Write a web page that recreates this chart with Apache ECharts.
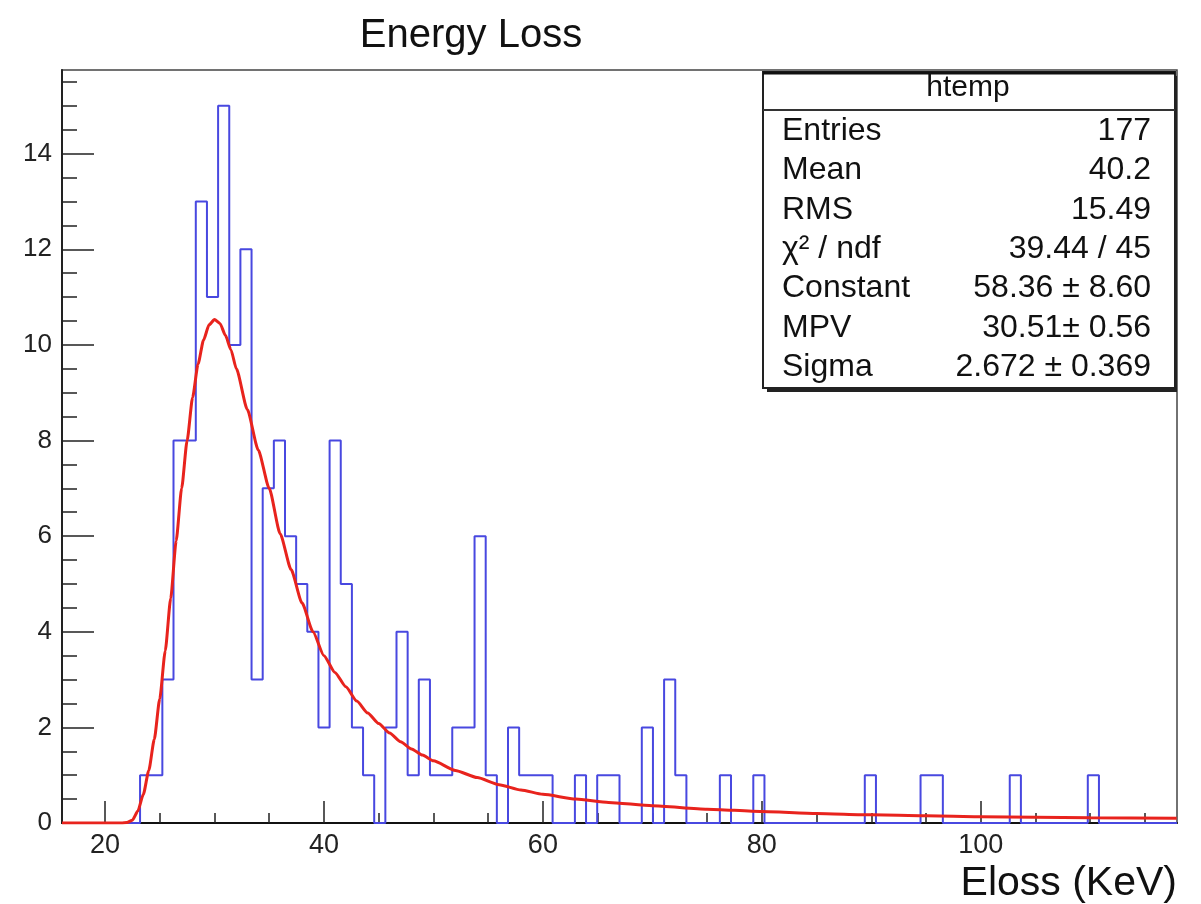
<!DOCTYPE html>
<html>
<head>
<meta charset="utf-8">
<script src="https://cdn.jsdelivr.net/npm/echarts@6.0.0/dist/echarts.min.js"></script>
<style>
  html, body { margin: 0; padding: 0; background: #ffffff; }
  #chart { width: 1201px; height: 904px; }
</style>
</head>
<body>
<div id="chart"></div>
<script>
// ---------- data ----------
const titleText = 'Energy Loss';
const xAxisName = 'Eloss (KeV)';
const xMin = 16.07;
const xMax = 117.93;
const yMin = 0;
const yMax = 15.75;
const binLow = 16.07;
const binWidth = 1.0186;
// counts per bin (100 bins)
const counts = [
  0, 0, 0, 0, 0, 0, 0, 1, 1, 3,
  8, 8, 13, 11, 15, 10, 12, 3, 7, 8,
  6, 5, 4, 2, 8, 5, 2, 1, 0, 2,
  4, 1, 3, 1, 1, 2, 2, 6, 1, 0,
  2, 1, 1, 1, 0, 0, 1, 0, 1, 1,
  0, 0, 2, 0, 3, 1, 0, 0, 0, 1,
  0, 0, 1, 0, 0, 0, 0, 0, 0, 0,
  0, 0, 1, 0, 0, 0, 0, 1, 1, 0,
  0, 0, 0, 0, 0, 1, 0, 0, 0, 0,
  0, 0, 1, 0, 0, 0, 0, 0, 0, 0
];
// fitted curve, points
const fitX = [16.07, 21.5, 22.0, 22.5, 23.0, 23.5, 24.0, 24.5, 25.0, 25.5, 26.0, 26.5, 27.0, 27.5, 28.0, 28.5, 29.0, 29.5, 30.0, 30.5, 31.0, 31.5, 32.0, 33.0, 34.0, 35.0, 36.0, 37.0, 38.0, 39.0, 40.0, 41.0, 42.0, 43.0, 44.0, 45.0, 46.0, 47.0, 48.0, 49.0, 50.0, 52.0, 54.0, 56.0, 58.0, 60.0, 63.0, 66.0, 70.0, 75.0, 80.0, 85.0, 90.0, 95.0, 100.0, 105.0, 110.0, 117.9];
const fitY = [0, 0, 0.01, 0.06, 0.25, 0.6, 1.1, 1.75, 2.6, 3.6, 4.7, 5.9, 7.0, 8.0, 8.9, 9.6, 10.1, 10.42, 10.53, 10.45, 10.2, 9.9, 9.5, 8.65, 7.8, 7.0, 6.05, 5.3, 4.6, 4.0, 3.5, 3.15, 2.85, 2.55, 2.3, 2.08, 1.88, 1.7, 1.55, 1.42, 1.3, 1.1, 0.95, 0.8, 0.69, 0.6, 0.5, 0.43, 0.36, 0.29, 0.24, 0.2, 0.17, 0.15, 0.13, 0.12, 0.11, 0.1];
// axis ticks
const xMajorTicks = [20, 40, 60, 80, 100];
const xMinorTicks = [20, 25, 30, 35, 40, 45, 50, 55, 60, 65, 70, 75, 80, 85, 90, 95, 100, 105, 110, 115];
const yMajorTicks = [0, 2, 4, 6, 8, 10, 12, 14];
const yMinorTicks = [0.5, 1, 1.5, 2, 2.5, 3, 3.5, 4, 4.5, 5, 5.5, 6, 6.5, 7, 7.5, 8, 8.5, 9, 9.5, 10, 10.5, 11, 11.5, 12, 12.5, 13, 13.5, 14, 14.5, 15, 15.5];
// stats box
const statsTitle = 'htemp';
const statsLabels = ['Entries', 'Mean', 'RMS', 'χ² / ndf', 'Constant', 'MPV', 'Sigma'];
const statsValues = ['177', '40.2', '15.49', '39.44 / 45', '58.36 ± 8.60', '30.51± 0.56', '2.672 ± 0.369'];

// ---------- build ----------
const FONT = 'Liberation Sans, Arial, Helvetica, sans-serif';
const histData = counts.map((c, k) => [binLow + k * binWidth, c]);
histData.push([binLow + counts.length * binWidth, 0]);
const fitData = fitX.map((x, i) => [x, fitY[i]]);

const BOX = { x: 763, y: 72, w: 412, h: 316 };
const rowY0 = 131, rowStep = 39.4;
const graphics = [
  { type: 'rect', shape: { x: BOX.x + 4, y: BOX.y + 4, width: BOX.w - 2, height: BOX.h }, style: { fill: '#222' }, z: 100 },
  { type: 'rect', shape: { x: BOX.x, y: BOX.y, width: BOX.w, height: BOX.h }, style: { fill: '#fff', stroke: '#222', lineWidth: 2 }, z: 101 },
  { type: 'line', shape: { x1: BOX.x, y1: BOX.y + 1, x2: BOX.x + BOX.w, y2: BOX.y + 1 }, style: { stroke: '#111', lineWidth: 3 }, z: 102 },
  { type: 'line', shape: { x1: BOX.x, y1: 110, x2: BOX.x + BOX.w, y2: 110 }, style: { stroke: '#333', lineWidth: 2 }, z: 102 },
  { type: 'text', x: 968, y: 88, style: { text: statsTitle, font: '30px ' + FONT, fill: '#111', align: 'center', verticalAlign: 'middle' }, z: 103 }
];
statsLabels.forEach((lab, i) => {
  graphics.push({ type: 'text', x: 782, y: rowY0 + i * rowStep, style: { text: lab, font: '32px ' + FONT, fill: '#111', align: 'left', verticalAlign: 'middle' }, z: 103 });
  graphics.push({ type: 'text', x: 1151, y: rowY0 + i * rowStep, style: { text: statsValues[i], font: '32px ' + FONT, fill: '#111', align: 'right', verticalAlign: 'middle' }, z: 103 });
});

const chart = echarts.init(document.getElementById('chart'), null, { renderer: 'canvas' });
chart.setOption({
  animation: false,
  backgroundColor: '#ffffff',
  title: {
    text: titleText,
    left: 471, top: 16, padding: 0, textAlign: 'center',
    textStyle: { fontFamily: FONT, fontSize: 40, fontWeight: 'normal', color: '#111' }
  },
  grid: { left: 62, top: 70, right: 24, bottom: 78, show: true, borderColor: '#444', borderWidth: 1.5, containLabel: false },
  xAxis: [
    {
      type: 'value', min: xMin, max: xMax, position: 'bottom', offset: 0,
      name: xAxisName, nameLocation: 'end', nameGap: 0,
      nameTextStyle: { fontFamily: FONT, fontSize: 41, color: '#111', align: 'right', verticalAlign: 'top', padding: [40, 0, 0, 0] },
      axisLine: { show: true, lineStyle: { color: '#111', width: 2 } },
      axisTick: { show: true, inside: true, length: 22, customValues: xMajorTicks, lineStyle: { color: '#222', width: 1.5 } },
      axisLabel: { show: true, customValues: xMajorTicks, margin: 9, fontFamily: FONT, fontSize: 27, color: '#222' },
      splitLine: { show: false }
    },
    {
      type: 'value', min: xMin, max: xMax, position: 'bottom', offset: 0,
      axisLine: { show: false },
      axisTick: { show: true, inside: true, length: 10, customValues: xMinorTicks, lineStyle: { color: '#222', width: 1.5 } },
      axisLabel: { show: false },
      splitLine: { show: false }
    }
  ],
  yAxis: [
    {
      type: 'value', min: yMin, max: yMax, position: 'left', offset: 0,
      axisLine: { show: true, lineStyle: { color: '#222', width: 2 } },
      axisTick: { show: true, inside: true, length: 32, customValues: yMajorTicks, lineStyle: { color: '#222', width: 1.5 } },
      axisLabel: { show: true, customValues: yMajorTicks, margin: 10, fontFamily: FONT, fontSize: 26, color: '#222' },
      splitLine: { show: false }
    },
    {
      type: 'value', min: yMin, max: yMax, position: 'left', offset: 0,
      axisLine: { show: false },
      axisTick: { show: true, inside: true, length: 15, customValues: yMinorTicks, lineStyle: { color: '#222', width: 1.5 } },
      axisLabel: { show: false },
      splitLine: { show: false }
    }
  ],
  series: [
    {
      type: 'line', name: 'htemp', xAxisIndex: 0, yAxisIndex: 0,
      data: histData, step: 'end', symbol: 'none',
      lineStyle: { color: '#4848e0', width: 2 }, z: 3
    },
    {
      type: 'line', name: 'fit', xAxisIndex: 0, yAxisIndex: 0,
      data: fitData, smooth: 0.2, smoothMonotone: 'x', symbol: 'none',
      lineStyle: { color: '#e8231d', width: 3 }, z: 4
    }
  ],
  graphic: graphics
});
</script>
</body>
</html>
